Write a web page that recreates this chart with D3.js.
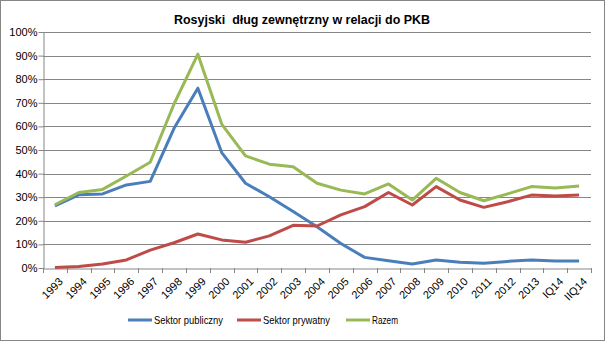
<!DOCTYPE html>
<html><head><meta charset="utf-8">
<script src="https://cdn.jsdelivr.net/npm/d3@7"></script>
<style>html,body{margin:0;padding:0;background:#fff}svg{display:block}</style>
</head><body>
<script>
const categories = ["1993","1994","1995","1996","1997","1998","1999","2000","2001","2002","2003","2004","2005","2006","2007","2008","2009","2010","2011","2012","2013","IQ14","IIQ14"];
const publiczny = [26.3,31,31.4,35.2,36.7,59.2,76.2,48.9,35.9,30.2,23.9,17.5,10.4,4.5,3.1,1.7,3.4,2.4,2,2.8,3.4,3,3];
const prywatny = [0.2,0.6,1.7,3.4,7.6,10.7,14.4,11.9,10.9,13.6,18.1,17.8,22.5,26,32,26.7,34.5,28.8,25.7,28.1,30.9,30.5,30.9];
const razem = [26.8,32,33.3,39,44.8,69.5,90.6,61,47.5,44,42.9,35.9,33,31.4,35.6,28.8,38,32,28.5,31.4,34.5,33.9,34.7];
const yTicks = [0,10,20,30,40,50,60,70,80,90,100];
const seriesNames = ["Sektor publiczny","Sektor prywatny","Razem"];
const colors = ["#4A7EBB","#BE4B48","#98B954"];

const W=605,H=341;
const svg=d3.select("body").append("svg").attr("width",W).attr("height",H);
svg.append("rect").attr("x",0.5).attr("y",0.5).attr("width",W-1).attr("height",H-1).attr("fill","#fff").attr("stroke","#868686");
const font="'Liberation Sans', Arial, sans-serif";
const L=43,R=591,T=32,B=268;
const x=d3.scaleBand().domain(categories).range([L,R]);
const y=d3.scaleLinear().domain([0,100]).range([B,T]);

svg.append("text").attr("x",302).attr("y",24).attr("text-anchor","middle").attr("font-family",font).attr("font-weight","bold").attr("font-size",12)
 .style("white-space","pre").attr("textLength",256).attr("lengthAdjust","spacingAndGlyphs").text("Rosyjski  dług zewnętrzny w relacji do PKB");

// gridlines
svg.append("g").selectAll("line").data(yTicks.slice(1)).join("line")
 .attr("x1",L).attr("x2",R).attr("y1",d=>Math.round(y(d))+0.5).attr("y2",d=>Math.round(y(d))+0.5).attr("stroke","#868686").attr("stroke-width",1);

// y axis
const ya=svg.append("g").attr("transform",`translate(${L+0.5},0)`).call(d3.axisLeft(y).tickValues(yTicks).tickFormat(d=>d+"%").tickSize(5).tickSizeOuter(0));
ya.select(".domain").attr("stroke","#868686");
ya.selectAll(".tick line").attr("stroke","#868686");
ya.selectAll("text").attr("font-family",font).attr("font-size",11).attr("fill","#000").attr("x",-6);

// x axis
const xa=svg.append("g").attr("transform",`translate(0,${B+0.5})`).call(d3.axisBottom(x).tickSize(0).tickSizeOuter(0));
xa.select(".domain").attr("stroke","#868686");
xa.selectAll(".tick text").attr("font-family",font).attr("font-size",11).attr("fill","#000")
 .attr("text-anchor","end").attr("transform","translate(6,11) rotate(-45)").attr("dy","0.35em").attr("y",0);
// tick marks between categories
svg.append("g").selectAll("line").data(d3.range(categories.length+1)).join("line")
 .attr("x1",i=>Math.round(L+i*x.step())+0.5).attr("x2",i=>Math.round(L+i*x.step())+0.5)
 .attr("y1",B).attr("y2",B+5).attr("stroke","#868686");

const cx=c=>x(c)+x.bandwidth()/2;
const line=d3.line().x((d,i)=>cx(categories[i])).y(d=>y(d));
[publiczny,prywatny,razem].forEach((s,k)=>{
 svg.append("path").datum(s).attr("d",line).attr("fill","none").attr("stroke",colors[k]).attr("stroke-width",3).attr("stroke-linejoin","round");
});

// legend
const legX=[128,237,346];
const legW=[69,67,26];
seriesNames.forEach((n,k)=>{
 const g=svg.append("g");
 g.append("line").attr("x1",legX[k]).attr("x2",legX[k]+24).attr("y1",320).attr("y2",320).attr("stroke",colors[k]).attr("stroke-width",3);
 g.append("text").attr("x",legX[k]+26).attr("y",324).attr("font-family",font).attr("font-size",11)
  .attr("textLength",legW[k]).attr("lengthAdjust","spacingAndGlyphs").text(n);
});
</script>
</body></html>
